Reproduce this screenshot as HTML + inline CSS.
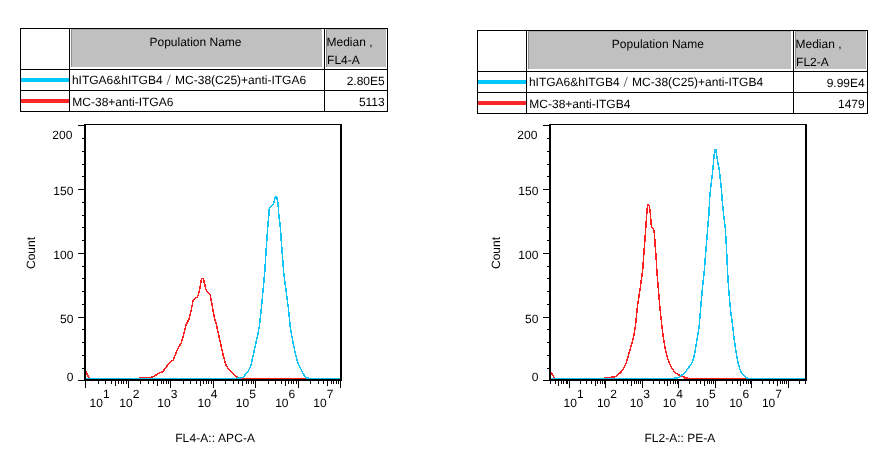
<!DOCTYPE html>
<html lang="en">
<head>
<meta charset="utf-8">
<title>Flow cytometry histograms</title>
<style>
html,body{margin:0;padding:0;background:#fff;}
body{width:883px;height:463px;overflow:hidden;position:relative;}
svg{position:absolute;left:0;top:0;display:block;}
text{font-family:"Liberation Sans", sans-serif;fill:#000;}
.fw{font-family:"Liberation Sans","NanumGothic",sans-serif;fill:#5a5a5a;}
</style>
</head>
<body>
<svg width="883" height="463" viewBox="0 0 883 463" shape-rendering="crispEdges">
<rect x="0" y="0" width="883" height="463" fill="#fff"/>
<g shape-rendering="geometricPrecision" text-rendering="geometricPrecision">
<rect x="71" y="29" width="251" height="38" fill="#c0c0c0"/>
<rect x="71" y="29" width="1" height="38" fill="#8c8c8c"/>
<rect x="71" y="29" width="251" height="1" fill="#a8a8a8"/>
<rect x="326" y="29" width="60" height="38" fill="#c0c0c0"/>
<rect x="326" y="29" width="1" height="38" fill="#8c8c8c"/>
<rect x="326" y="29" width="60" height="1" fill="#a8a8a8"/>
<rect x="20" y="28" width="368" height="1" fill="#000"/>
<rect x="20" y="69" width="368" height="1" fill="#000"/>
<rect x="20" y="90" width="368" height="1" fill="#000"/>
<rect x="20" y="111" width="368" height="1" fill="#000"/>
<rect x="20" y="28" width="1" height="84" fill="#000"/>
<rect x="69" y="28" width="1" height="84" fill="#000"/>
<rect x="324" y="28" width="1" height="84" fill="#000"/>
<rect x="387" y="28" width="1" height="84" fill="#000"/>
<rect x="21" y="78" width="48" height="4" fill="#00c8ff"/>
<rect x="21" y="99" width="48" height="4" fill="#ff2828"/>
<text x="195.5" y="46" font-size="12" text-anchor="middle">Population Name</text>
<text x="326.5" y="46" font-size="12" text-anchor="start">Median ,</text>
<text x="327.1" y="64" font-size="12" text-anchor="start">FL4-A</text>
<text x="71.9" y="84" font-size="12" text-anchor="start">hITGA6&amp;hITGB4<tspan class="fw" dx="0.3">／</tspan><tspan dx="0.9">MC-38(C25)+anti-ITGA6</tspan></text>
<text x="384.7" y="85" font-size="12" text-anchor="end">2.80E5</text>
<text x="72.3" y="106" font-size="12" text-anchor="start">MC-38+anti-ITGA6</text>
<text x="384.7" y="106" font-size="12" text-anchor="end">5113</text>
<rect x="528" y="31" width="263" height="38" fill="#c0c0c0"/>
<rect x="528" y="31" width="1" height="38" fill="#8c8c8c"/>
<rect x="528" y="31" width="263" height="1" fill="#a8a8a8"/>
<rect x="795" y="31" width="71" height="38" fill="#c0c0c0"/>
<rect x="795" y="31" width="1" height="38" fill="#8c8c8c"/>
<rect x="795" y="31" width="71" height="1" fill="#a8a8a8"/>
<rect x="477" y="30" width="391" height="1" fill="#000"/>
<rect x="477" y="71" width="391" height="1" fill="#000"/>
<rect x="477" y="92" width="391" height="1" fill="#000"/>
<rect x="477" y="113" width="391" height="1" fill="#000"/>
<rect x="477" y="30" width="1" height="84" fill="#000"/>
<rect x="526" y="30" width="1" height="84" fill="#000"/>
<rect x="793" y="30" width="1" height="84" fill="#000"/>
<rect x="867" y="30" width="1" height="84" fill="#000"/>
<rect x="478" y="80" width="48" height="4" fill="#00c8ff"/>
<rect x="478" y="101" width="48" height="4" fill="#ff2828"/>
<text x="657.9" y="48" font-size="12" text-anchor="middle">Population Name</text>
<text x="795.5" y="48" font-size="12" text-anchor="start">Median ,</text>
<text x="796.1" y="66" font-size="12" text-anchor="start">FL2-A</text>
<text x="528.9" y="86" font-size="12" text-anchor="start">hITGA6&amp;hITGB4<tspan class="fw" dx="0.3">／</tspan><tspan dx="0.9">MC-38(C25)+anti-ITGB4</tspan></text>
<text x="864.7" y="87" font-size="12" text-anchor="end">9.99E4</text>
<text x="529.3" y="108" font-size="12" text-anchor="start">MC-38+anti-ITGB4</text>
<text x="864.7" y="108" font-size="12" text-anchor="end">1479</text>
<polyline points="85.5,371.0 86.5,372.5 87.5,375.0 89.5,378.5 139.0,378.5" fill="none" stroke="#ff2020" stroke-width="1.5" stroke-linejoin="round" shape-rendering="crispEdges"/>
<polyline points="139.3,377.5 150.5,377.5 153.8,376.3 158.8,373.3 162.8,371.7 167.6,365.1 170.7,361.6 173.2,360.1 176.4,351.9 178.2,348.2 181.4,342.5 183.9,333.8 186.1,325.0 188.8,319.5 190.7,312.6 193.2,300.1 194.8,298.3 197.3,297.4 198.5,294.6 199.5,290.1 201.4,278.8 203.3,278.5 205.8,288.8 207.0,291.3 210.2,295.1 211.4,301.3 212.7,308.8 214.5,317.6 216.7,326.0 219.0,336.3 221.5,347.6 223.4,356.3 226.2,365.5 229.5,370.3 233.0,373.6 236.3,376.5 237.6,377.5" fill="none" stroke="#ff2020" stroke-width="1.5" stroke-linejoin="round" shape-rendering="crispEdges"/>
<polyline points="237.5,378.5 340.0,378.5" fill="none" stroke="#ff2020" stroke-width="1.5" stroke-linejoin="round" shape-rendering="crispEdges"/>
<polyline points="86.0,378.5 240.9,378.5" fill="none" stroke="#12c4f6" stroke-width="1.5" stroke-linejoin="round" shape-rendering="crispEdges"/>
<polyline points="237.0,377.5 242.9,377.4 245.5,374.4 248.2,371.0 250.8,366.0 253.8,352.6 256.3,341.3 258.2,332.5 259.4,326.0 261.4,307.6 263.2,288.8 264.8,271.0 266.4,246.3 267.9,225.0 268.8,216.0 269.1,209.5 270.1,207.6 273.6,203.9 275.1,197.0 276.6,196.7 277.9,202.6 278.6,211.4 279.0,216.5 280.4,227.5 281.4,242.6 282.7,258.9 283.5,271.0 285.8,288.8 288.3,307.6 290.1,326.0 291.4,333.8 293.3,343.8 295.2,352.6 297.4,361.3 299.1,366.0 302.0,371.5 305.0,376.6 305.6,377.5 309.0,377.5" fill="none" stroke="#12c4f6" stroke-width="1.5" stroke-linejoin="round" shape-rendering="crispEdges"/>
<polyline points="305.9,378.5 340.0,378.5" fill="none" stroke="#12c4f6" stroke-width="1.5" stroke-linejoin="round" shape-rendering="crispEdges"/>
<rect x="84" y="124" width="2" height="257" fill="#000"/>
<rect x="340" y="124" width="2" height="257" fill="#000"/>
<rect x="84" y="124" width="258" height="1" fill="#000"/>
<rect x="84" y="379" width="258" height="2" fill="#000"/>
<rect x="78" y="380" width="6" height="1" fill="#000"/>
<rect x="82" y="368" width="2" height="1" fill="#000"/>
<rect x="82" y="355" width="2" height="1" fill="#000"/>
<rect x="82" y="342" width="2" height="1" fill="#000"/>
<rect x="82" y="329" width="2" height="1" fill="#000"/>
<rect x="78" y="317" width="6" height="1" fill="#000"/>
<rect x="82" y="304" width="2" height="1" fill="#000"/>
<rect x="82" y="291" width="2" height="1" fill="#000"/>
<rect x="82" y="278" width="2" height="1" fill="#000"/>
<rect x="82" y="266" width="2" height="1" fill="#000"/>
<rect x="78" y="253" width="6" height="1" fill="#000"/>
<rect x="82" y="240" width="2" height="1" fill="#000"/>
<rect x="82" y="227" width="2" height="1" fill="#000"/>
<rect x="82" y="215" width="2" height="1" fill="#000"/>
<rect x="82" y="202" width="2" height="1" fill="#000"/>
<rect x="78" y="189" width="6" height="1" fill="#000"/>
<rect x="82" y="176" width="2" height="1" fill="#000"/>
<rect x="82" y="164" width="2" height="1" fill="#000"/>
<rect x="82" y="151" width="2" height="1" fill="#000"/>
<rect x="82" y="138" width="2" height="1" fill="#000"/>
<rect x="78" y="125" width="6" height="1" fill="#000"/>
<text x="72.4" y="139" font-size="12" text-anchor="end">200</text>
<text x="73.4" y="195" font-size="12" text-anchor="end">150</text>
<text x="73.4" y="259" font-size="12" text-anchor="end">100</text>
<text x="73.4" y="323" font-size="12" text-anchor="end">50</text>
<text x="73.4" y="381" font-size="12" text-anchor="end">0</text>
<rect x="85" y="381" width="1" height="7" fill="#000"/>
<rect x="98" y="381" width="1" height="3" fill="#000"/>
<rect x="105" y="381" width="1" height="3" fill="#000"/>
<rect x="111" y="381" width="1" height="3" fill="#000"/>
<rect x="115" y="381" width="1" height="5" fill="#000"/>
<rect x="118" y="381" width="1" height="3" fill="#000"/>
<rect x="121" y="381" width="1" height="3" fill="#000"/>
<rect x="123" y="381" width="1" height="3" fill="#000"/>
<rect x="126" y="381" width="1" height="3" fill="#000"/>
<rect x="128" y="381" width="1" height="7" fill="#000"/>
<rect x="140" y="381" width="1" height="3" fill="#000"/>
<rect x="148" y="381" width="1" height="3" fill="#000"/>
<rect x="153" y="381" width="1" height="3" fill="#000"/>
<rect x="157" y="381" width="1" height="5" fill="#000"/>
<rect x="161" y="381" width="1" height="3" fill="#000"/>
<rect x="163" y="381" width="1" height="3" fill="#000"/>
<rect x="166" y="381" width="1" height="3" fill="#000"/>
<rect x="168" y="381" width="1" height="3" fill="#000"/>
<rect x="170" y="381" width="1" height="7" fill="#000"/>
<rect x="183" y="381" width="1" height="3" fill="#000"/>
<rect x="190" y="381" width="1" height="3" fill="#000"/>
<rect x="196" y="381" width="1" height="3" fill="#000"/>
<rect x="200" y="381" width="1" height="5" fill="#000"/>
<rect x="203" y="381" width="1" height="3" fill="#000"/>
<rect x="206" y="381" width="1" height="3" fill="#000"/>
<rect x="208" y="381" width="1" height="3" fill="#000"/>
<rect x="211" y="381" width="1" height="3" fill="#000"/>
<rect x="213" y="381" width="1" height="7" fill="#000"/>
<rect x="225" y="381" width="1" height="3" fill="#000"/>
<rect x="233" y="381" width="1" height="3" fill="#000"/>
<rect x="238" y="381" width="1" height="3" fill="#000"/>
<rect x="242" y="381" width="1" height="5" fill="#000"/>
<rect x="246" y="381" width="1" height="3" fill="#000"/>
<rect x="248" y="381" width="1" height="3" fill="#000"/>
<rect x="251" y="381" width="1" height="3" fill="#000"/>
<rect x="253" y="381" width="1" height="3" fill="#000"/>
<rect x="255" y="381" width="1" height="7" fill="#000"/>
<rect x="268" y="381" width="1" height="3" fill="#000"/>
<rect x="275" y="381" width="1" height="3" fill="#000"/>
<rect x="281" y="381" width="1" height="3" fill="#000"/>
<rect x="285" y="381" width="1" height="5" fill="#000"/>
<rect x="288" y="381" width="1" height="3" fill="#000"/>
<rect x="291" y="381" width="1" height="3" fill="#000"/>
<rect x="293" y="381" width="1" height="3" fill="#000"/>
<rect x="296" y="381" width="1" height="3" fill="#000"/>
<rect x="298" y="381" width="1" height="7" fill="#000"/>
<rect x="310" y="381" width="1" height="3" fill="#000"/>
<rect x="318" y="381" width="1" height="3" fill="#000"/>
<rect x="323" y="381" width="1" height="3" fill="#000"/>
<rect x="327" y="381" width="1" height="5" fill="#000"/>
<rect x="331" y="381" width="1" height="3" fill="#000"/>
<rect x="333" y="381" width="1" height="3" fill="#000"/>
<rect x="336" y="381" width="1" height="3" fill="#000"/>
<rect x="338" y="381" width="1" height="3" fill="#000"/>
<rect x="340" y="381" width="1" height="7" fill="#000"/>
<text x="89.6" y="407" font-size="12">10<tspan dx="0" dy="-9">1</tspan></text>
<text x="119.35" y="407" font-size="12">10<tspan dx="0" dy="-9">2</tspan></text>
<text x="157.35" y="407" font-size="12">10<tspan dx="0" dy="-9">3</tspan></text>
<text x="197.5" y="407" font-size="12">10<tspan dx="0" dy="-9">4</tspan></text>
<text x="235.85" y="407" font-size="12">10<tspan dx="0" dy="-9">5</tspan></text>
<text x="275.20000000000005" y="407" font-size="12">10<tspan dx="0" dy="-9">6</tspan></text>
<text x="313.35" y="407" font-size="12">10<tspan dx="0" dy="-9">7</tspan></text>
<text x="215.2" y="442" font-size="12" text-anchor="middle" letter-spacing="0.1">FL4-A:: APC-A</text>
<text transform="translate(35.3,253) rotate(-90)" font-size="12" text-anchor="middle">Count</text>
<polyline points="550.5,371.5 551.5,373.0 552.5,375.0 554.6,378.5 604.0,378.5" fill="none" stroke="#ff2020" stroke-width="1.5" stroke-linejoin="round" shape-rendering="crispEdges"/>
<polyline points="604.0,377.5 614.9,377.5" fill="none" stroke="#ff2020" stroke-width="1.5" stroke-linejoin="round" shape-rendering="crispEdges"/>
<polyline points="611.0,376.5 616.3,376.3 620.8,372.3 623.2,368.9 626.3,362.6 628.8,353.8 631.4,345.0 633.9,335.0 635.4,326.0 637.6,305.1 640.1,288.8 642.6,271.0 643.9,252.6 645.1,237.6 646.0,224.5 647.0,211.3 647.6,204.4 648.6,204.4 649.5,206.9 650.4,213.8 651.2,224.5 652.0,227.6 653.5,228.9 654.5,234.5 655.2,246.3 656.2,258.9 656.9,271.0 658.3,288.8 659.9,307.6 661.9,326.0 663.3,337.5 665.2,348.8 667.7,358.8 670.8,366.4 674.5,372.2 680.0,375.7 681.5,376.5 684.5,377.2 687.6,377.5" fill="none" stroke="#ff2020" stroke-width="1.5" stroke-linejoin="round" shape-rendering="crispEdges"/>
<polyline points="684.0,378.5 805.0,378.5" fill="none" stroke="#ff2020" stroke-width="1.5" stroke-linejoin="round" shape-rendering="crispEdges"/>
<polyline points="551.0,378.5 677.7,378.5" fill="none" stroke="#12c4f6" stroke-width="1.5" stroke-linejoin="round" shape-rendering="crispEdges"/>
<polyline points="674.0,377.5 678.6,377.4 682.5,374.6 685.8,372.0 686.9,369.9 691.3,363.8 693.6,358.8 695.7,347.6 697.6,336.3 699.2,326.0 700.7,307.6 702.6,286.3 704.3,271.0 705.7,252.6 707.0,237.6 708.2,221.3 708.9,215.0 709.7,197.6 710.7,187.6 712.0,177.6 713.0,167.6 713.9,157.5 714.7,149.4 715.8,149.4 717.0,157.5 718.3,165.1 719.5,171.3 720.4,180.1 721.4,188.9 722.0,197.6 723.6,215.0 725.2,227.5 726.2,242.6 727.0,258.9 727.5,271.0 728.9,292.6 730.8,312.6 732.7,326.0 733.9,337.5 735.8,350.1 737.7,361.3 739.6,368.5 740.9,372.0 744.0,375.6 746.2,377.4 748.1,377.5" fill="none" stroke="#12c4f6" stroke-width="1.5" stroke-linejoin="round" shape-rendering="crispEdges"/>
<polyline points="745.9,378.5 805.0,378.5" fill="none" stroke="#12c4f6" stroke-width="1.5" stroke-linejoin="round" shape-rendering="crispEdges"/>
<rect x="549" y="124" width="2" height="257" fill="#000"/>
<rect x="805" y="124" width="2" height="257" fill="#000"/>
<rect x="549" y="124" width="258" height="1" fill="#000"/>
<rect x="549" y="379" width="258" height="2" fill="#000"/>
<rect x="543" y="380" width="6" height="1" fill="#000"/>
<rect x="547" y="368" width="2" height="1" fill="#000"/>
<rect x="547" y="355" width="2" height="1" fill="#000"/>
<rect x="547" y="342" width="2" height="1" fill="#000"/>
<rect x="547" y="329" width="2" height="1" fill="#000"/>
<rect x="543" y="317" width="6" height="1" fill="#000"/>
<rect x="547" y="304" width="2" height="1" fill="#000"/>
<rect x="547" y="291" width="2" height="1" fill="#000"/>
<rect x="547" y="278" width="2" height="1" fill="#000"/>
<rect x="547" y="266" width="2" height="1" fill="#000"/>
<rect x="543" y="253" width="6" height="1" fill="#000"/>
<rect x="547" y="240" width="2" height="1" fill="#000"/>
<rect x="547" y="227" width="2" height="1" fill="#000"/>
<rect x="547" y="215" width="2" height="1" fill="#000"/>
<rect x="547" y="202" width="2" height="1" fill="#000"/>
<rect x="543" y="189" width="6" height="1" fill="#000"/>
<rect x="547" y="176" width="2" height="1" fill="#000"/>
<rect x="547" y="164" width="2" height="1" fill="#000"/>
<rect x="547" y="151" width="2" height="1" fill="#000"/>
<rect x="547" y="138" width="2" height="1" fill="#000"/>
<rect x="543" y="125" width="6" height="1" fill="#000"/>
<text x="537.4" y="139" font-size="12" text-anchor="end">200</text>
<text x="538.4" y="195" font-size="12" text-anchor="end">150</text>
<text x="538.4" y="259" font-size="12" text-anchor="end">100</text>
<text x="538.4" y="323" font-size="12" text-anchor="end">50</text>
<text x="538.4" y="381" font-size="12" text-anchor="end">0</text>
<rect x="550" y="381" width="1" height="3" fill="#000"/>
<rect x="555" y="381" width="1" height="3" fill="#000"/>
<rect x="558" y="381" width="1" height="5" fill="#000"/>
<rect x="561" y="381" width="1" height="3" fill="#000"/>
<rect x="563" y="381" width="1" height="3" fill="#000"/>
<rect x="566" y="381" width="1" height="3" fill="#000"/>
<rect x="567" y="381" width="1" height="3" fill="#000"/>
<rect x="569" y="381" width="1" height="7" fill="#000"/>
<rect x="580" y="381" width="1" height="3" fill="#000"/>
<rect x="586" y="381" width="1" height="3" fill="#000"/>
<rect x="591" y="381" width="1" height="3" fill="#000"/>
<rect x="595" y="381" width="1" height="5" fill="#000"/>
<rect x="597" y="381" width="1" height="3" fill="#000"/>
<rect x="600" y="381" width="1" height="3" fill="#000"/>
<rect x="602" y="381" width="1" height="3" fill="#000"/>
<rect x="604" y="381" width="1" height="3" fill="#000"/>
<rect x="605" y="381" width="1" height="7" fill="#000"/>
<rect x="616" y="381" width="1" height="3" fill="#000"/>
<rect x="623" y="381" width="1" height="3" fill="#000"/>
<rect x="627" y="381" width="1" height="3" fill="#000"/>
<rect x="631" y="381" width="1" height="5" fill="#000"/>
<rect x="634" y="381" width="1" height="3" fill="#000"/>
<rect x="636" y="381" width="1" height="3" fill="#000"/>
<rect x="638" y="381" width="1" height="3" fill="#000"/>
<rect x="640" y="381" width="1" height="3" fill="#000"/>
<rect x="642" y="381" width="1" height="7" fill="#000"/>
<rect x="653" y="381" width="1" height="3" fill="#000"/>
<rect x="659" y="381" width="1" height="3" fill="#000"/>
<rect x="664" y="381" width="1" height="3" fill="#000"/>
<rect x="667" y="381" width="1" height="5" fill="#000"/>
<rect x="670" y="381" width="1" height="3" fill="#000"/>
<rect x="673" y="381" width="1" height="3" fill="#000"/>
<rect x="675" y="381" width="1" height="3" fill="#000"/>
<rect x="677" y="381" width="1" height="3" fill="#000"/>
<rect x="678" y="381" width="1" height="7" fill="#000"/>
<rect x="689" y="381" width="1" height="3" fill="#000"/>
<rect x="696" y="381" width="1" height="3" fill="#000"/>
<rect x="700" y="381" width="1" height="3" fill="#000"/>
<rect x="704" y="381" width="1" height="5" fill="#000"/>
<rect x="707" y="381" width="1" height="3" fill="#000"/>
<rect x="709" y="381" width="1" height="3" fill="#000"/>
<rect x="711" y="381" width="1" height="3" fill="#000"/>
<rect x="713" y="381" width="1" height="3" fill="#000"/>
<rect x="715" y="381" width="1" height="7" fill="#000"/>
<rect x="726" y="381" width="1" height="3" fill="#000"/>
<rect x="732" y="381" width="1" height="3" fill="#000"/>
<rect x="737" y="381" width="1" height="3" fill="#000"/>
<rect x="740" y="381" width="1" height="5" fill="#000"/>
<rect x="743" y="381" width="1" height="3" fill="#000"/>
<rect x="746" y="381" width="1" height="3" fill="#000"/>
<rect x="748" y="381" width="1" height="3" fill="#000"/>
<rect x="750" y="381" width="1" height="3" fill="#000"/>
<rect x="751" y="381" width="1" height="7" fill="#000"/>
<rect x="762" y="381" width="1" height="3" fill="#000"/>
<rect x="769" y="381" width="1" height="3" fill="#000"/>
<rect x="773" y="381" width="1" height="3" fill="#000"/>
<rect x="777" y="381" width="1" height="5" fill="#000"/>
<rect x="780" y="381" width="1" height="3" fill="#000"/>
<rect x="782" y="381" width="1" height="3" fill="#000"/>
<rect x="784" y="381" width="1" height="3" fill="#000"/>
<rect x="786" y="381" width="1" height="3" fill="#000"/>
<rect x="788" y="381" width="1" height="7" fill="#000"/>
<rect x="799" y="381" width="1" height="3" fill="#000"/>
<rect x="805" y="381" width="1" height="3" fill="#000"/>
<text x="563.6" y="407" font-size="12">10<tspan dx="0" dy="-9">1</tspan></text>
<text x="596.9" y="407" font-size="12">10<tspan dx="0" dy="-9">2</tspan></text>
<text x="629.8000000000001" y="407" font-size="12">10<tspan dx="0" dy="-9">3</tspan></text>
<text x="662.8000000000001" y="407" font-size="12">10<tspan dx="0" dy="-9">4</tspan></text>
<text x="695.6" y="407" font-size="12">10<tspan dx="0" dy="-9">5</tspan></text>
<text x="729.2" y="407" font-size="12">10<tspan dx="0" dy="-9">6</tspan></text>
<text x="761.9" y="407" font-size="12">10<tspan dx="0" dy="-9">7</tspan></text>
<text x="679.8" y="442" font-size="12" text-anchor="middle">FL2-A:: PE-A</text>
<text transform="translate(500.3,253) rotate(-90)" font-size="12" text-anchor="middle">Count</text>
</g>
</svg>
</body>
</html>
